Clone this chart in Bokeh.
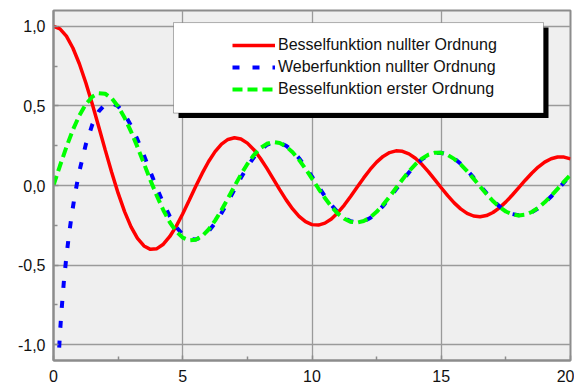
from bokeh.plotting import figure
from bokeh.models import (FixedTicker, CustomJSTickFormatter, BoxAnnotation,
                          Legend, LegendItem, Range1d)
from bokeh.embed import file_html
from bokeh.resources import INLINE

# x positions (step 0.25) shared by J0 and J1
X = [0.0, 0.25, 0.5, 0.75, 1.0, 1.25, 1.5, 1.75, 2.0, 2.25, 2.5, 2.75, 3.0, 3.25, 3.5, 3.75,
     4.0, 4.25, 4.5, 4.75, 5.0, 5.25, 5.5, 5.75, 6.0, 6.25, 6.5, 6.75, 7.0, 7.25, 7.5, 7.75,
     8.0, 8.25, 8.5, 8.75, 9.0, 9.25, 9.5, 9.75, 10.0, 10.25, 10.5, 10.75, 11.0, 11.25, 11.5, 11.75,
     12.0, 12.25, 12.5, 12.75, 13.0, 13.25, 13.5, 13.75, 14.0, 14.25, 14.5, 14.75, 15.0, 15.25, 15.5, 15.75,
     16.0, 16.25, 16.5, 16.75, 17.0, 17.25, 17.5, 17.75, 18.0, 18.25, 18.5, 18.75, 19.0, 19.25, 19.5, 19.75,
     20.0]

# Besselfunktion nullter Ordnung
J0 = [1.0, 0.98444, 0.93847, 0.86424, 0.76520, 0.64591, 0.51183, 0.36903, 0.22389, 0.08275,
      -0.04838, -0.16414, -0.26005, -0.33275, -0.38013, -0.40141, -0.39715, -0.36921, -0.32054, -0.25511,
      -0.17760, -0.09307, -0.00684, 0.07599, 0.15065, 0.21308, 0.26009, 0.28944, 0.30008, 0.29199,
      0.26634, 0.22523, 0.17165, 0.10920, 0.04194, -0.02595, -0.09033, -0.14741, -0.19393, -0.22733,
      -0.24594, -0.24897, -0.23665, -0.21007, -0.17119, -0.12266, -0.06765, -0.00967, 0.04769, 0.10093,
      0.14688, 0.18289, 0.20693, 0.21777, 0.21499, 0.19902, 0.17107, 0.13308, 0.08755, 0.03739,
      -0.01422, -0.06411, -0.10923, -0.14689, -0.17490, -0.19168, -0.19638, -0.18889, -0.16985, -0.14061,
      -0.10311, -0.05977, -0.01336, 0.03325, 0.07717, 0.11573, 0.14663, 0.16807, 0.17885, 0.17845,
      0.16702]

# Besselfunktion erster Ordnung
J1 = [0.0, 0.12403, 0.24227, 0.34924, 0.44005, 0.51062, 0.55794, 0.58016, 0.57672, 0.54838,
      0.49709, 0.42597, 0.33906, 0.24112, 0.13738, 0.03323, -0.06604, -0.15549, -0.23106, -0.28915,
      -0.32758, -0.34500, -0.34144, -0.31794, -0.27668, -0.22075, -0.15384, -0.08033, -0.00468, 0.06858,
      0.13525, 0.19161, 0.23464, 0.26221, 0.27312, 0.26723, 0.24531, 0.20915, 0.16126, 0.10484,
      0.04347, -0.01902, -0.07885, -0.13247, -0.17679, -0.20933, -0.22838, -0.23308, -0.22345, -0.20036,
      -0.16548, -0.12118, -0.07032, -0.01612, 0.03805, 0.08890, 0.13338, 0.16889, 0.19343, 0.20568,
      0.20510, 0.19195, 0.16721, 0.13261, 0.09040, 0.04329, -0.00577, -0.05372, -0.09767, -0.13497,
      -0.16342, -0.18142, -0.18799, -0.18291, -0.16663, -0.14031, -0.10570, -0.06503, -0.02088, 0.02400,
      0.06683]

# Weberfunktion nullter Ordnung (own x positions, denser near 0)
Y0_X = [0.15, 0.2, 0.25, 0.3, 0.4, 0.5, 0.6, 0.7, 0.8, 0.9, 1.0, 1.25, 1.5, 1.75, 2.0, 2.25, 2.5, 2.75,
        3.0, 3.25, 3.5, 3.75, 4.0, 4.25, 4.5, 4.75, 5.0, 5.25, 5.5, 5.75, 6.0, 6.25, 6.5, 6.75, 7.0, 7.25,
        7.5, 7.75, 8.0, 8.25, 8.5, 8.75, 9.0, 9.25, 9.5, 9.75, 10.0, 10.25, 10.5, 10.75, 11.0, 11.25,
        11.5, 11.75, 12.0, 12.25, 12.5, 12.75, 13.0, 13.25, 13.5, 13.75, 14.0, 14.25, 14.5, 14.75,
        15.0, 15.25, 15.5, 15.75, 16.0, 16.25, 16.5, 16.75, 17.0, 17.25, 17.5, 17.75, 18.0, 18.25,
        18.5, 18.75, 19.0, 19.25, 19.5, 19.75, 20.0]
Y0 = [-1.27078, -1.08111, -0.93158, -0.80727, -0.60602, -0.44452, -0.30851, -0.19066, -0.08680, 0.00563,
      0.08826, 0.25822, 0.38245, 0.46549, 0.51038, 0.52007, 0.49807, 0.44866, 0.37685, 0.28829,
      0.18902, 0.08520, -0.01694, -0.11197, -0.19474, -0.26126, -0.30852, -0.33478, -0.33949, -0.32333,
      -0.28819, -0.23692, -0.17323, -0.10137, -0.02595, 0.04842, 0.11731, 0.17677, 0.22352, 0.25514,
      0.27020, 0.26826, 0.24993, 0.21678, 0.17121, 0.11632, 0.05567, -0.00690, -0.06753, -0.12259,
      -0.16885, -0.20368, -0.22523, -0.23246, -0.22524, -0.20430, -0.17121, -0.12824, -0.07821, -0.02431,
      0.03008, 0.08161, 0.12719, 0.16413, 0.19030, 0.20430, 0.20546, 0.19394, 0.17064, 0.13720,
      0.09581, 0.04916, 0.00018, -0.04807, -0.09264, -0.13084, -0.16041, -0.17966, -0.18755, -0.18375,
      -0.16866, -0.14335, -0.10952, -0.06937, -0.02545, 0.01948, 0.06264]

LABELS = ["Besselfunktion nullter Ordnung",
          "Weberfunktion nullter Ordnung",
          "Besselfunktion erster Ordnung"]
X_TICKS = [0, 5, 10, 15, 20]
X_MINOR = [2.5, 7.5, 12.5, 17.5]
Y_TICKS = [-1.0, -0.5, 0.0, 0.5, 1.0]
Y_MINOR = [-0.75, -0.25, 0.25, 0.75]

FONT = "Liberation Sans"
GRAY = "#8c8c8c"

p = figure(width=574, height=384, x_range=Range1d(0, 20), y_range=Range1d(-1.1, 1.1),
           output_backend="svg", toolbar_location=None,
           min_border_left=53, min_border_top=10, min_border_right=4, min_border_bottom=20)
p.background_fill_color = "#efefef"
p.border_fill_color = "white"
p.outline_line_color = GRAY
p.outline_line_width = 2

p.xaxis.ticker = FixedTicker(ticks=X_TICKS, minor_ticks=X_MINOR)
p.yaxis.ticker = FixedTicker(ticks=Y_TICKS, minor_ticks=Y_MINOR)
p.yaxis.formatter = CustomJSTickFormatter(code="return tick.toFixed(1).replace('.', ',');")

for ax in (p.xaxis[0], p.yaxis[0]):
    ax.axis_line_color = GRAY
    ax.axis_line_width = 2
    ax.major_tick_line_color = GRAY
    ax.minor_tick_line_color = GRAY
    ax.major_tick_line_width = 1.5
    ax.minor_tick_line_width = 1.5
    ax.major_tick_in = 5
    ax.major_tick_out = 0
    ax.minor_tick_in = 4
    ax.minor_tick_out = 0
    ax.major_label_text_font = FONT
    ax.major_label_text_font_size = "16px"
    ax.major_label_text_color = "#111111"
p.xaxis.major_label_standoff = 9
p.yaxis.major_label_standoff = 8

p.xgrid.grid_line_color = "#9a9a9a"
p.ygrid.grid_line_color = "#9a9a9a"
p.xgrid.grid_line_width = 1.3
p.ygrid.grid_line_width = 1.6

r_j0 = p.line(X, J0, line_color="#ff0000", line_width=3.5)
r_y0 = p.line(Y0_X, Y0, line_color="#0000ff", line_width=4, line_dash="7 13")
r_j1 = p.line(X, J1, line_color="#00ff00", line_width=4, line_dash="10 5")

shadow = BoxAnnotation(left=4.836, right=19.149, top=0.9925, bottom=0.4236,
                       fill_color="black", fill_alpha=1.0, line_color=None)
box = BoxAnnotation(left=4.642, right=18.956, top=1.0241, bottom=0.4552,
                    fill_color="white", fill_alpha=1.0, line_color="black", line_width=1)
p.add_layout(shadow)
p.add_layout(box)

legend = Legend(items=[LegendItem(label=LABELS[0], renderers=[r_j0]),
                       LegendItem(label=LABELS[1], renderers=[r_y0]),
                       LegendItem(label=LABELS[2], renderers=[r_j1])],
                location=(179, 261), padding=0, margin=0, spacing=2,
                glyph_width=43, glyph_height=20, label_height=20, label_standoff=3,
                label_text_font=FONT, label_text_font_size="16px", label_text_color="#111111",
                border_line_color=None, background_fill_alpha=0.0)
p.add_layout(legend)

open("out.html", "w").write(file_html(p, INLINE))
